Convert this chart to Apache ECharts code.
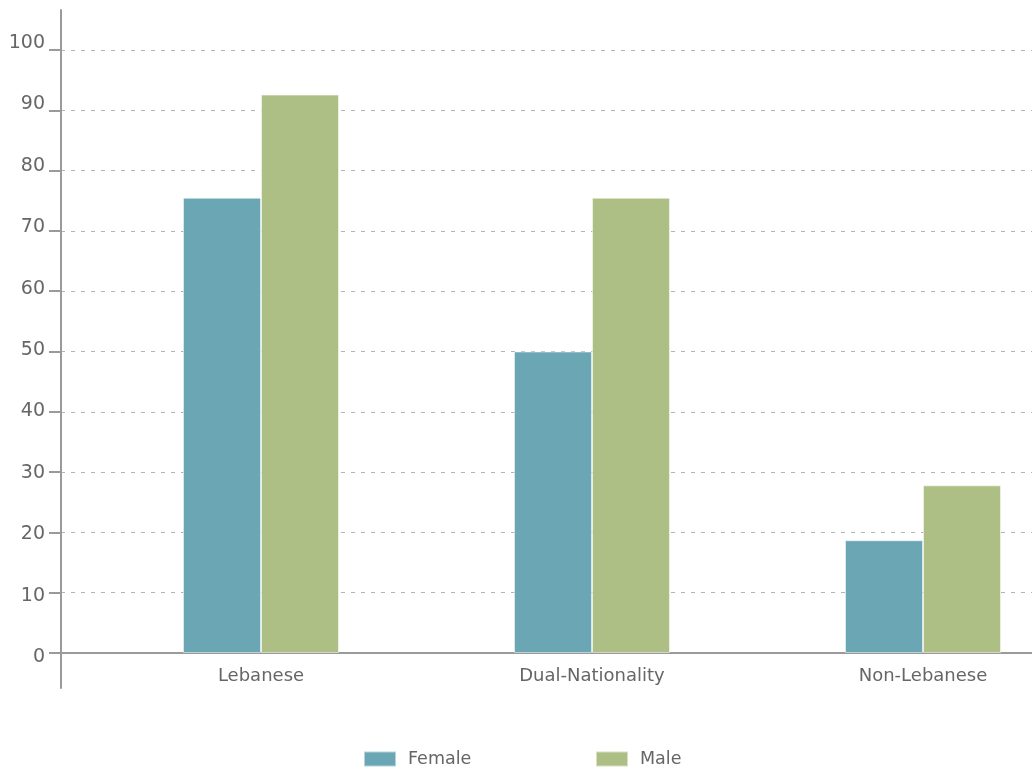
<!DOCTYPE html>
<html>
<head>
<meta charset="utf-8">
<script src="https://cdn.jsdelivr.net/npm/echarts@6/dist/echarts.min.js"></script>
<style>
html,body{margin:0;padding:0;background:#fff;}
#chart{width:1032px;height:771px;}
</style>
</head>
<body>
<div id="chart"></div>
<script>
const categories = ['Lebanese', 'Dual-Nationality', 'Non-Lebanese'];
const female = [75.5, 50, 18.7];
const male = [92.6, 75.5, 27.8];
const yTicks = [0, 100, 10]; // min, max, interval

const FONT = 'DejaVu Sans';
const TXT = '#666';
const AX = '#9a9a9a';

const chart = echarts.init(document.getElementById('chart'), null, {renderer: 'canvas'});
chart.setOption({
  animation: false,
  textStyle: {fontFamily: FONT},
  legend: [
    {data: ['Female'], left: 363, top: 750, padding: 0, icon: 'rect', itemWidth: 32, itemHeight: 15, itemGap: 0,
     textStyle: {fontFamily: FONT, fontSize: 17.5, color: TXT, padding: [0, 0, 0, 7]}},
    {data: ['Male'], left: 595, top: 750, padding: 0, icon: 'rect', itemWidth: 32, itemHeight: 15, itemGap: 0,
     textStyle: {fontFamily: FONT, fontSize: 17.5, color: TXT, padding: [0, 0, 0, 7]}}
  ],
  grid: [
    {left: 95.5, top: 50, width: 993, height: 603, outerBoundsMode: 'none'},
    {left: 61, top: 50, right: 0, height: 603, outerBoundsMode: 'none'},
    {left: 61, top: 10, right: 0, height: 678, outerBoundsMode: 'none'},
    {left: 61, top: 43, right: 0, height: 614, outerBoundsMode: 'none'}
  ],
  xAxis: [
    {gridIndex: 0, type: 'category', data: categories,
     axisLine: {show: false}, axisTick: {show: false},
     axisLabel: {fontFamily: FONT, fontSize: 18, color: TXT, margin: 14}},
    {gridIndex: 1, type: 'category', data: [''],
     axisLine: {show: true, lineStyle: {color: AX, width: 2}}, axisTick: {show: false}, axisLabel: {show: false}},
    {gridIndex: 2, type: 'category', data: [''], show: false},
    {gridIndex: 3, type: 'category', data: [''], show: false}
  ],
  yAxis: [
    {gridIndex: 0, type: 'value', min: yTicks[0], max: yTicks[1], interval: yTicks[2], show: false},
    {gridIndex: 1, type: 'value', min: yTicks[0], max: yTicks[1], interval: yTicks[2],
     axisLine: {show: false},
     axisTick: {show: true, length: 12, lineStyle: {color: AX, width: 2}},
     axisLabel: {show: false},
     splitLine: {show: true, lineStyle: {color: '#b4b4b4', type: [4, 6], width: 1}}},
    {gridIndex: 2, type: 'value', min: 0, max: 1, show: true,
     axisLine: {show: true, lineStyle: {color: AX, width: 2}},
     axisTick: {show: false}, axisLabel: {show: false}, splitLine: {show: false}},
    {gridIndex: 3, type: 'value', min: yTicks[0], max: yTicks[1], interval: yTicks[2],
     axisLine: {show: false}, axisTick: {show: false}, splitLine: {show: false},
     axisLabel: {fontFamily: FONT, fontSize: 19, color: TXT, margin: 16}}
  ],
  series: [
    {name: 'Female', type: 'bar', xAxisIndex: 0, yAxisIndex: 0, data: female,
     barWidth: 78, barGap: '0%', itemStyle: {color: '#6aa6b4', borderColor: 'rgba(255,255,255,0.5)', borderWidth: 1}},
    {name: 'Male', type: 'bar', xAxisIndex: 0, yAxisIndex: 0, data: male,
     barWidth: 78, barGap: '0%', itemStyle: {color: '#adbf85', borderColor: 'rgba(255,255,255,0.5)', borderWidth: 1}}
  ]
});
</script>
</body>
</html>
